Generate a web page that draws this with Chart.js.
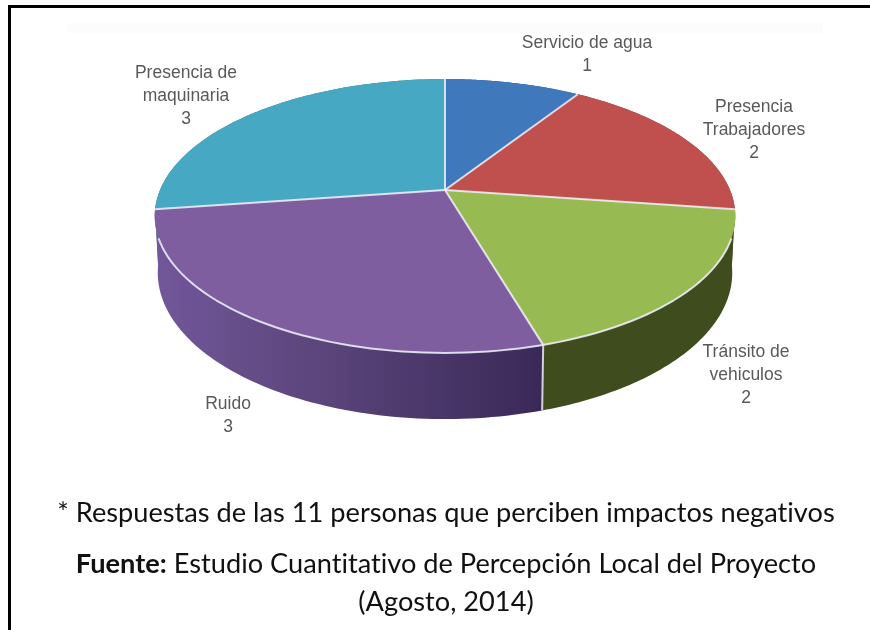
<!DOCTYPE html>
<html>
<head>
<meta charset="utf-8">
<style>
    body { margin: 0; background: #fff; width: 870px; height: 630px; overflow: hidden; position: relative; }
    #myChart { position: absolute; left: 0; top: 0; filter: blur(0.5px); }
    .band { position: absolute; left: 67px; top: 23px; width: 756px; height: 10px; background: #fcfcfc; }
    .frame-top { position: absolute; left: 8px; top: 5px; width: 862px; height: 3px; background: #000; }
    .frame-left { position: absolute; left: 8px; top: 5px; width: 3px; height: 625px; background: #000; }
    .note { position: absolute; left: 0; width: 892px; text-align: center; font-family: Lato, sans-serif; font-size: 27.2px; color: #111; white-space: nowrap; font-variant-ligatures: none; }
</style>
</head>
<body>
<div class="band"></div>
<canvas id="myChart" width="870" height="630"></canvas>
<div class="frame-top"></div>
<div class="frame-left"></div>
<div class="note" style="top: 495px;">* Respuestas de las 11 personas que perciben impactos negativos</div>
<div class="note" style="top: 546px;"><b>Fuente:</b> Estudio Cuantitativo de Percepción Local del Proyecto</div>
<div class="note" style="top: 584px;">(Agosto, 2014)</div>

<script src="https://cdn.jsdelivr.net/npm/chart.js@4"></script>
<script>
const categories = ['Servicio de agua', 'Presencia Trabajadores', 'Tránsito de vehiculos', 'Ruido', 'Presencia de maquinaria'];
const labelLines = [['Servicio de agua'], ['Presencia', 'Trabajadores'], ['Tránsito de', 'vehiculos'], ['Ruido'], ['Presencia de', 'maquinaria']];
const responses = [1, 2, 2, 3, 3];
const topColors = ['#3f79bc', '#c0504d', '#97bb52', '#7e5e9f', '#47a8c4'];
const wallColors = ['#2c5585', '#863836', '#3f4c1e', '#5a4478', '#317587'];

// where the labels sit, center x and y of the first line
const labelSpots = [[587, 43], [754, 107], [746, 352], [228, 404], [186, 73]];

// perspective of the top and bottom faces of the pie
const topFace = { cx: 445, cy: 190, a: 285, b: 132, k: 0.19 };
const bottomFace = { cx: 445, cy: 245, a: 282, b: 141, k: 0.19 };

function project(face, chartAngle) {
    const t = chartAngle + Math.PI / 2;
    const w = 1 + face.k * Math.cos(t);
    return [face.cx + face.a * Math.sin(t) / w, face.cy - face.b * Math.cos(t) / w];
}

function traceEdge(ctx, face, from, to) {
    const steps = 80;
    for (let i = 0; i <= steps; i++) {
        const p = project(face, from + (to - from) * i / steps);
        ctx.lineTo(p[0], p[1]);
    }
}

const pie3d = {
    id: 'pie3d',
    beforeDatasetsDraw(chart) {
        const ctx = chart.ctx;
        const arcs = chart.getDatasetMeta(0).data;
        ctx.save();
        ctx.lineJoin = 'round';

        // back walls first so the front ones cover them
        [0, 1, 4, 2, 3].forEach((i) => {
            const arc = arcs[i];
            ctx.beginPath();
            traceEdge(ctx, topFace, arc.startAngle, arc.endAngle);
            traceEdge(ctx, bottomFace, arc.endAngle, arc.startAngle);
            ctx.closePath();
            if (i === 3) {
                const shade = ctx.createLinearGradient(154, 0, 541, 0);
                shade.addColorStop(0, '#72579a');
                shade.addColorStop(0.45, '#5a447a');
                shade.addColorStop(1, '#3a2958');
                ctx.fillStyle = shade;
            } else {
                ctx.fillStyle = wallColors[i];
            }
            ctx.fill();
        });

        // wall seam between Transito and Ruido
        const seamTop = project(topFace, arcs[3].startAngle);
        const seamBottom = project(bottomFace, arcs[3].startAngle);
        ctx.strokeStyle = 'rgba(225,225,225,0.9)';
        ctx.lineWidth = 2;
        ctx.beginPath();
        ctx.moveTo(seamTop[0], seamTop[1]);
        ctx.lineTo(seamBottom[0], seamBottom[1]);
        ctx.stroke();

        arcs.forEach((arc, i) => {
            ctx.beginPath();
            ctx.moveTo(topFace.cx, topFace.cy);
            traceEdge(ctx, topFace, arc.startAngle, arc.endAngle);
            ctx.closePath();
            ctx.fillStyle = topColors[i];
            ctx.fill();
        });

        // light lines between the slices
        ctx.strokeStyle = 'rgba(240,240,250,0.85)';
        ctx.lineWidth = 2;
        arcs.forEach((arc) => {
            const p = project(topFace, arc.startAngle);
            ctx.beginPath();
            ctx.moveTo(topFace.cx, topFace.cy);
            ctx.lineTo(p[0], p[1]);
            ctx.stroke();
        });

        // and along the front rim, where the wall shows
        const rimFrom = 20 * Math.PI / 180;
        const rimTo = 160 * Math.PI / 180;
        ctx.beginPath();
        traceEdge(ctx, topFace, rimFrom, rimTo);
        ctx.stroke();

        ctx.font = '17.5px "Liberation Sans", Arial, sans-serif';
        ctx.fillStyle = '#595959';
        ctx.textAlign = 'center';
        ctx.textBaseline = 'middle';
        categories.forEach((name, i) => {
            const lines = labelLines[i].concat(String(responses[i]));
            lines.forEach((line, n) => {
                ctx.fillText(line, labelSpots[i][0], labelSpots[i][1] + n * 23);
            });
        });

        ctx.restore();
        return false;
    }
};

new Chart(document.getElementById('myChart').getContext('2d'), {
    type: 'pie',
    data: {
        labels: categories,
        datasets: [{
            data: responses,
            backgroundColor: topColors
        }]
    },
    options: {
        responsive: false,
        animation: false,
        plugins: {
            legend: { display: false },
            tooltip: { enabled: false }
        }
    },
    plugins: [pie3d]
});
</script>
</body>
</html>
